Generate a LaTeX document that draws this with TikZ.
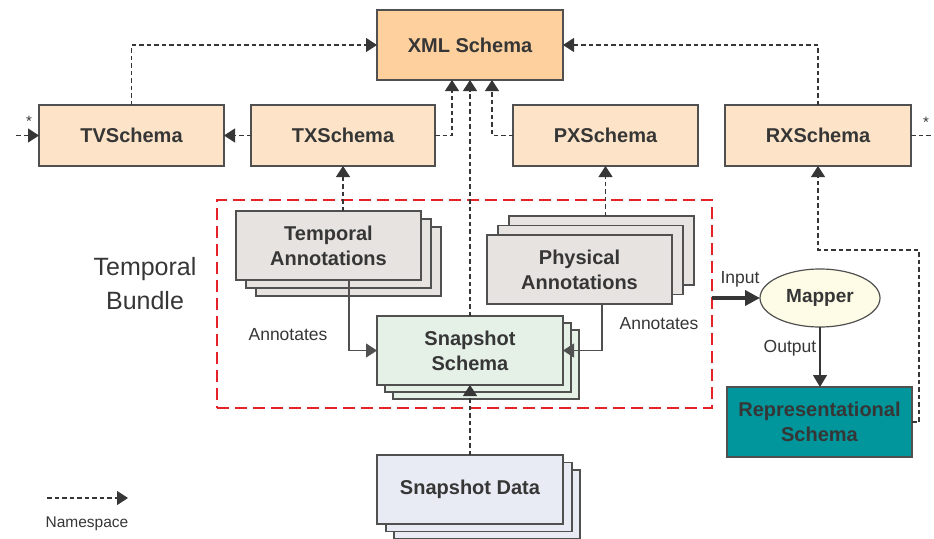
\documentclass[tikz,border=0pt]{standalone}
\usepackage{fontspec}
\setmainfont{Liberation Sans}
\usetikzlibrary{arrows.meta,shapes.geometric}

\definecolor{ink}{HTML}{363636}
\definecolor{edge}{HTML}{505050}
\definecolor{xmlfill}{HTML}{FDD09E}
\definecolor{schemafill}{HTML}{FDE4C8}
\definecolor{annfill}{HTML}{E7E3E0}
\definecolor{snapfill}{HTML}{E5F0E7}
\definecolor{datafill}{HTML}{E8EAF4}
\definecolor{mapfill}{HTML}{FEFCE6}
\definecolor{teal}{HTML}{00969C}
\definecolor{bundlered}{HTML}{E5222A}

\begin{document}
\begin{tikzpicture}[x=1pt,y=-1pt,
  box/.style={draw=edge, line width=1.3pt, inner sep=0pt, outer sep=0pt,
    align=center, text=ink, minimum width=185pt,
    font=\bfseries\fontsize{20}{25}\selectfont},
  schemabox/.style={box, fill=schemafill, minimum height=61pt},
  stackbox/.style={box, minimum height=69pt},
  ns/.style={draw=ink, line width=1.1pt, dash pattern=on 4.5pt off 3pt,
    -{Triangle[length=11pt,width=14pt]}},
  nsplain/.style={draw=ink, line width=1.1pt, dash pattern=on 4.5pt off 3pt},
  ann/.style={draw=edge, line width=1.2pt, -{Triangle[length=11pt,width=14pt]}},
  lbl/.style={text=ink, inner sep=0pt, font=\fontsize{17.5}{21}\selectfont}
]
\useasboundingbox (0,0) rectangle (934,538);

% top row
\node[box, fill=xmlfill, minimum width=186pt, minimum height=70pt] (xml) at (470,45) {XML Schema};
\node[schemabox] (tv) at (131.5,135.5) {TVSchema};
\node[schemabox, minimum width=184pt] (tx) at (343,135.5) {TXSchema};
\node[schemabox] (px) at (605.5,135.5) {PXSchema};
\node[schemabox, minimum width=186pt] (rx) at (818,135.5) {RXSchema};

% temporal bundle frame
\node[draw=bundlered, line width=1.8pt, dash pattern=on 12pt off 6pt,
      minimum width=495pt, minimum height=208pt, inner sep=0pt, outer sep=0pt]
      (bundle) at (464.5,304) {};
\node[text=ink, align=center, font=\fontsize{25}{34}\selectfont] (bundlelbl) at (145,284) {Temporal\\Bundle};

% temporal annotations stack
\node[stackbox, fill=annfill] (ta3) at (348.5,261.5) {};
\node[stackbox, fill=annfill] (ta2) at (338.5,253.5) {};
\node[stackbox, fill=annfill] (ta) at (328.5,245.5) {Temporal\\Annotations};

% physical annotations stack
\node[stackbox, fill=annfill] (pa3) at (601.5,250.5) {};
\node[stackbox, fill=annfill] (pa2) at (590.5,260) {};
\node[stackbox, fill=annfill] (pa) at (579.5,269.5) {Physical\\Annotations};

% snapshot schema stack
\node[stackbox, fill=snapfill, minimum width=186pt] (ss3) at (486,364.5) {};
\node[stackbox, fill=snapfill, minimum width=186pt] (ss2) at (478,357.5) {};
\node[stackbox, fill=snapfill, minimum width=186pt] (ss) at (470,350.5) {Snapshot\\Schema};

% snapshot data stack
\node[stackbox, fill=datafill, minimum width=186pt] (sd3) at (487,504.5) {};
\node[stackbox, fill=datafill, minimum width=186pt] (sd2) at (479,497) {};
\node[stackbox, fill=datafill, minimum width=186pt] (sd) at (470,489.5) {Snapshot Data};

% mapper and its output
\node[ellipse, draw=edge, line width=1.2pt, fill=mapfill, minimum width=120pt,
      minimum height=58pt, inner sep=0pt, outer sep=0pt, text=ink,
      font=\bfseries\fontsize{19}{23}\selectfont] (mapper) at (820,298) {Mapper};
\node[box, fill=teal, minimum height=70pt] (rs) at (819.5,422) {Representational\\Schema};

% namespace links
\draw[ns] (tv.north) |- (xml.west);
\draw[ns] (rx.north) |- (xml.east);
\draw[ns] (tx.west) -- (tv.east);
\draw[ns] (tx.east) -| ([xshift=-18pt]xml.south);
\draw[ns] (px.west) -| ([xshift=22pt]xml.south);
\draw[ns] (ss.north) -- (xml.south);
\draw[ns] (sd.north) -- (ss.south);
\draw[ns] (ta.north -| tx.south) -- (tx.south);
\draw[ns] (pa3.north -| px.south) -- (px.south);
\coordinate (rsbend) at (919,250);
\draw[ns] (rs.east) -| (rsbend) -| (rx.south);

% open-ended links at the sides
\coordinate (leftend) at (16,135.5);
\coordinate (rightend) at (934,135.5);
\draw[ns] (leftend) -- (tv.west);
\draw[nsplain] (rx.east) -- (rightend);
\node[lbl, font=\fontsize{15}{18}\selectfont] (starl) at (29,121) {*};
\node[lbl, font=\fontsize{15}{18}\selectfont] (starr) at (926,122) {*};

% annotation links
\draw[ann] ([xshift=20.5pt]ta.south) |- (ss.west);
\draw[ann] ([xshift=22.5pt]pa.south) |- (ss.east);
\node[lbl] (annl) at (288,335) {Annotates};
\node[lbl] (annr) at (659,324) {Annotates};

% mapping
\draw[draw=ink, line width=4pt, -{Triangle[length=15pt,width=15pt]}]
  (bundle.east |- mapper.west) -- (mapper.west);
\draw[draw=ink, line width=1.2pt, -{Triangle[length=12pt,width=14pt]}]
  (mapper.south) -- (mapper.south |- rs.north);
\node[lbl] (inlbl) at (740,279) {Input};
\node[lbl] (outlbl) at (790,348) {Output};

% legend
\coordinate (lega) at (47,498);
\coordinate (legb) at (128,498);
\draw[ns] (lega) -- (legb);
\node[lbl, font=\fontsize{15.5}{18}\selectfont] (leglbl) at (87,524) {Namespace};
\end{tikzpicture}
\end{document}
